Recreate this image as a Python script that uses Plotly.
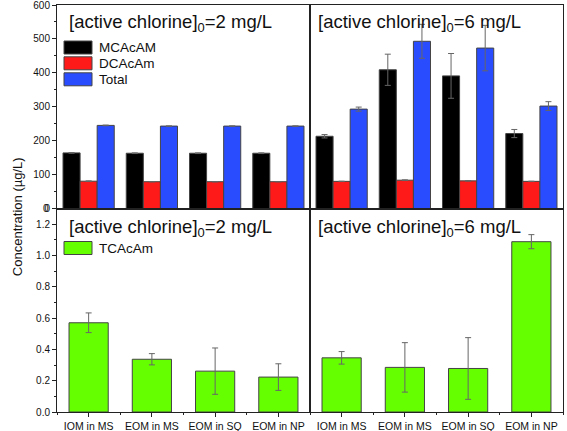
import plotly.graph_objects as go
from plotly.subplots import make_subplots

categories = ["IOM in MS", "EOM in MS", "EOM in SQ", "EOM in NP"]

# top panels (µg/L)
mcacam_2 = [164, 163, 163, 163]
mcacam_2_err = [1, 1, 1, 1]
dcacam_2 = [80.5, 79, 79, 79]
dcacam_2_err = [1, 0.5, 0.5, 0.5]
total_2 = [245, 243, 243, 243]
total_2_err = [1, 0.5, 0.5, 0.5]

mcacam_6 = [213, 409, 391, 221]
mcacam_6_err = [5, 46, 66, 12]
dcacam_6 = [80, 83.5, 81.5, 80]
dcacam_6_err = [0.5, 1, 0.5, 0.5]
total_6 = [293, 493, 473, 302]
total_6_err = [6, 50, 67, 13]

# bottom panels (µg/L)
tcacam_2 = [0.570, 0.337, 0.261, 0.223]
tcacam_2_err = [0.063, 0.036, 0.148, 0.085]
tcacam_6 = [0.346, 0.285, 0.278, 1.088]
tcacam_6_err = [0.040, 0.158, 0.197, 0.045]

legend_top = ["MCAcAM", "DCAcAm", "Total"]
legend_bottom = ["TCAcAm"]

xpos = list(range(len(categories)))

fig = make_subplots(rows=2, cols=2, horizontal_spacing=0, vertical_spacing=0)

BLACK, RED, BLUE, GREEN = "#000000", "#ff1a1a", "#2a4cff", "#66ff00"
OUT = "#444444"
ERR = dict(type="data", color="#666666", thickness=1, width=3)
W = 0.27

def top_traces(col, m, me, d, de, t, te):
    for name, vals, err, color, off in [(legend_top[0], m, me, BLACK, -1.5 * W),
                                        (legend_top[1], d, de, RED, -0.5 * W),
                                        (legend_top[2], t, te, BLUE, 0.5 * W)]:
        fig.add_trace(go.Bar(x=xpos, y=vals, name=name, width=W, offset=off,
                             marker=dict(color=color, line=dict(color=OUT, width=1)),
                             error_y=dict(array=err, **ERR),
                             showlegend=False), row=1, col=col)

top_traces(1, mcacam_2, mcacam_2_err, dcacam_2, dcacam_2_err, total_2, total_2_err)
top_traces(2, mcacam_6, mcacam_6_err, dcacam_6, dcacam_6_err, total_6, total_6_err)

for col, vals, err in [(1, tcacam_2, tcacam_2_err), (2, tcacam_6, tcacam_6_err)]:
    fig.add_trace(go.Bar(x=xpos, y=vals, name=legend_bottom[0], width=0.62,
                         marker=dict(color=GREEN, line=dict(color=OUT, width=1)),
                         error_y=dict(array=err, **ERR),
                         showlegend=False), row=2, col=col)

LINE = "#222222"
FONT = "Liberation Sans, Arial, sans-serif"
axis_common = dict(showline=True, linecolor=LINE, linewidth=1, mirror=True,
                   showgrid=False, zeroline=False, tickcolor=LINE,
                   automargin=False, ticklabeloverflow="allow")

for r in (1, 2):
    for c in (1, 2):
        xa = dict(axis_common, range=[-0.5, 3.5], tickvals=xpos)
        if r == 2:
            xa.update(ticktext=categories, ticks="outside", ticklen=4,
                      tickfont=dict(size=10.5, color="#111"),
                      minor=dict(tickvals=[-0.5, 0.5, 1.5, 2.5, 3.5], ticks="outside",
                                 ticklen=2, tickcolor=LINE))
        else:
            xa.update(showticklabels=False, ticks="")
        fig.update_xaxes(xa, row=r, col=c)

        ya = dict(axis_common)
        if r == 1:
            ya.update(range=[0, 600], tickvals=[0, 100, 200, 300, 400, 500, 600])
        else:
            ya.update(range=[0, 1.3], dtick=0.2, tick0=0, tickformat=".1f")
        if c == 1:
            ya.update(ticks="outside", ticklen=4, tickfont=dict(size=10, color="#111"),
                      minor=dict(ticks="outside", ticklen=2, tickcolor=LINE,
                                 dtick=50 if r == 1 else 0.1))
        else:
            ya.update(showticklabels=False, ticks="")
        fig.update_yaxes(ya, row=r, col=c)

# the "0" label of the top panel sits on the shared panel boundary (top of the
# lower panels' domain), where plotly does not draw it
fig.add_annotation(x=-0.0115, y=0.5, xref="paper", yref="paper", text="0",
                   showarrow=False, xanchor="right", yanchor="middle",
                   font=dict(family=FONT, size=10, color="#111"))

ann_font = dict(family=FONT, size=18.5, color="#111")
for xp, yp, txt in [(0.0198, 0.990, "[active chlorine]<sub>0</sub>=2 mg/L"),
                    (0.512, 0.990, "[active chlorine]<sub>0</sub>=6 mg/L"),
                    (0.0198, 0.487, "[active chlorine]<sub>0</sub>=2 mg/L"),
                    (0.512, 0.487, "[active chlorine]<sub>0</sub>=6 mg/L")]:
    fig.add_annotation(x=xp, y=yp, xref="paper", yref="paper", text=txt,
                       showarrow=False, xanchor="left", yanchor="top", font=ann_font)

# hand-drawn legends (swatch boxes + labels), in pixel positions converted to paper
PL, PW, PT, PH = 57, 506, 5, 407
def px(x):
    return (x - PL) / PW
def py(y):
    return 1 - (y - PT) / PH

leg_items = [(legend_top[0], BLACK, 47.5), (legend_top[1], RED, 63.3),
             (legend_top[2], BLUE, 79.3), (legend_bottom[0], GREEN, 248)]
for name, color, yc in leg_items:
    fig.add_shape(type="rect", xref="paper", yref="paper",
                  x0=px(64), x1=px(92), y0=py(yc - 6.5), y1=py(yc + 6.5),
                  fillcolor=color, line=dict(color=OUT, width=1))
    fig.add_annotation(x=px(97), y=py(yc), xref="paper", yref="paper", text=name,
                       showarrow=False, xanchor="left", yanchor="middle",
                       font=dict(family=FONT, size=13.5, color="#111"))

fig.add_annotation(x=-0.078, y=0.48, xref="paper", yref="paper",
                   text="Concentration (µg/L)", textangle=-90, showarrow=False,
                   font=dict(family=FONT, size=13, color="#111"),
                   xanchor="center", yanchor="middle")

fig.update_layout(
    width=567, height=431,
    margin=dict(l=57, r=4, t=5, b=19, autoexpand=False),
    paper_bgcolor="white", plot_bgcolor="white",
    font=dict(family=FONT, color="#111"),
    barmode="overlay",
    showlegend=False,
)

fig.write_html("out.html", config={"displayModeBar": False},
               post_script="document.body.style.margin='0';")
